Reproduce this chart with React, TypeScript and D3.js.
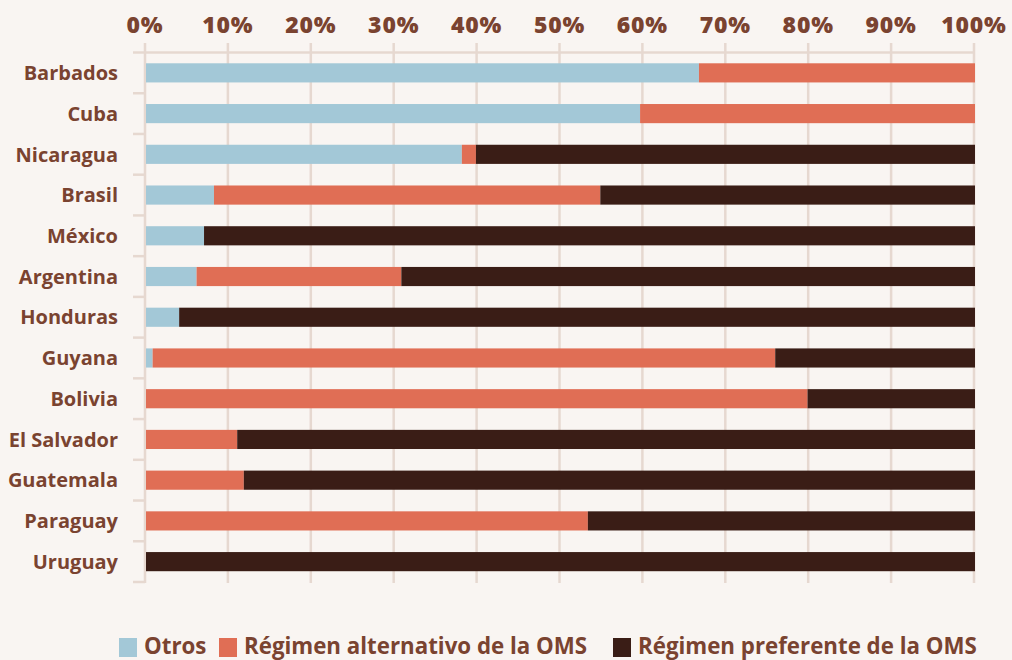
import React, { useEffect, useRef } from "react";
import * as d3 from "d3";

const countries = ["Barbados", "Cuba", "Nicaragua", "Brasil", "México", "Argentina", "Honduras", "Guyana", "Bolivia", "El Salvador", "Guatemala", "Paraguay", "Uruguay"];
const otros = [66.7, 59.6, 38.1, 8.2, 7.0, 6.1, 4.0, 0.8, 0, 0, 0, 0, 0];
const alternativo = [33.3, 40.4, 1.7, 46.6, 0, 24.7, 0, 75.1, 79.8, 11.0, 11.8, 53.3, 0];
const preferente = [0, 0, 60.2, 45.2, 93.0, 69.2, 96.0, 24.1, 20.2, 89.0, 88.2, 46.7, 100];
const seriesNames = ["Otros", "Régimen alternativo de la OMS", "Régimen preferente de la OMS"];
const seriesColors = ["#a3c8d7", "#e06e55", "#3a1d16"];
const xTicks = [0, 10, 20, 30, 40, 50, 60, 70, 80, 90, 100];

const W = 1012, H = 660;
const BG = "#f9f5f2";
const BROWN = "#7a4330";
const GRID = "#e6d8d0";

export default function App() {
  const ref = useRef<SVGSVGElement>(null);
  useEffect(() => {
    document.body.style.margin = "0";
    document.body.style.background = BG;
    const svg = d3.select(ref.current);
    svg.selectAll("*").remove();
    const x = d3.scaleLinear().domain([0, 100]).range([145, 974]);
    const y = d3.scaleBand().domain(countries).range([52.5, 582]).paddingInner(0.53).paddingOuter(0.265);
    const rows = countries.map((c, i) => ({ c, s0: otros[i], s1: alternativo[i], s2: preferente[i] }));
    const stack = d3.stack<any>().keys(["s0", "s1", "s2"]);
    const layers = stack(rows);

    svg.append("rect").attr("width", W).attr("height", H).attr("fill", BG);

    // gridlines
    const g = svg.append("g");
    xTicks.forEach((t) => {
      g.append("line").attr("x1", x(t)).attr("x2", x(t)).attr("y1", 43).attr("y2", 583)
        .attr("stroke", GRID).attr("stroke-width", 2.5);
    });
    // top axis line
    g.append("line").attr("x1", 133).attr("x2", x(100) + 1).attr("y1", 52.5).attr("y2", 52.5)
      .attr("stroke", GRID).attr("stroke-width", 2.5);
    // category ticks
    const step = y.step();
    const starts = countries.map((c) => (y(c) as number) - (step - y.bandwidth()) / 2);
    [...starts.slice(1), 582].forEach((yy) => {
      g.append("line").attr("x1", 133).attr("x2", x(0)).attr("y1", yy).attr("y2", yy)
        .attr("stroke", GRID).attr("stroke-width", 2.5);
    });

    // bars
    layers.forEach((layer, li) => {
      svg.append("g").selectAll("rect").data(layer).join("rect")
        .attr("x", (d: any) => x(d[0]) + 1)
        .attr("width", (d: any) => Math.max(0, x(d[1]) - x(d[0])))
        .attr("y", (d: any) => y(d.data.c) as number)
        .attr("height", y.bandwidth())
        .attr("fill", seriesColors[li]);
    });

    // x tick labels
    svg.append("g").selectAll("text").data(xTicks).join("text")
      .attr("x", (d) => x(d)).attr("y", 33)
      .attr("text-anchor", "middle")
      .attr("font-family", "'Open Sans', sans-serif").attr("font-weight", 800)
      .attr("font-size", 23).attr("letter-spacing", 0.8)
      .attr("fill", BROWN).text((d) => d + "%");

    // category labels
    svg.append("g").selectAll("text").data(countries).join("text")
      .attr("x", 118).attr("y", (d) => (y(d) as number) + y.bandwidth() / 2)
      .attr("dy", "0.36em").attr("text-anchor", "end")
      .attr("font-family", "'Open Sans', sans-serif").attr("font-weight", 700)
      .attr("font-size", 20).attr("fill", BROWN).text((d) => d);

    // legend
    const legX = [119, 219, 613];
    const lg = svg.append("g");
    seriesNames.forEach((n, i) => {
      lg.append("rect").attr("x", legX[i]).attr("y", 638).attr("width", 18).attr("height", 19).attr("fill", seriesColors[i]);
      lg.append("text").attr("x", legX[i] + 25).attr("y", 654)
        .attr("font-family", "'Open Sans', sans-serif").attr("font-weight", 700)
        .attr("font-size", 22.3).attr("fill", BROWN).text(n);
    });
  }, []);
  return <svg ref={ref} width={W} height={H} style={{ display: "block" }} />;
}
